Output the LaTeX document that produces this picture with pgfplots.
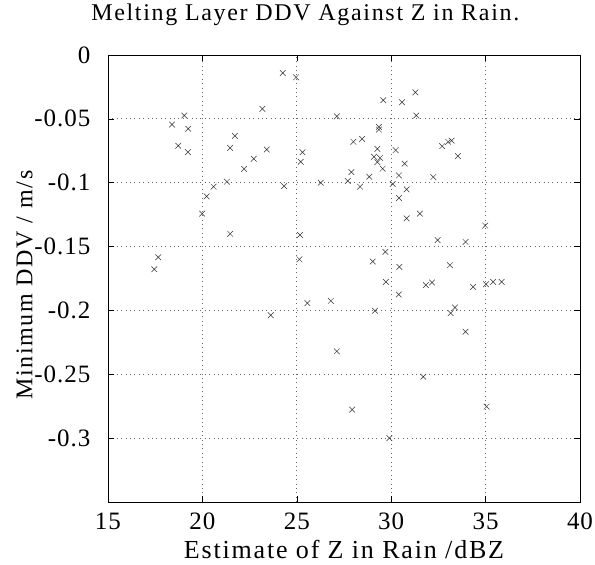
\documentclass[border=0pt]{standalone}
\usepackage{fontspec}
\setmainfont{Liberation Serif}[LetterSpace=7]
\newfontfamily\tickfont{Liberation Serif}[LetterSpace=4]
\usepackage{pgfplots}
\pgfplotsset{compat=1.18}
\usetikzlibrary{calc}

\pgfplotstableread{
x y
24.26 -0.0141
24.96 -0.0175
23.18 -0.0422
19.04 -0.0474
18.39 -0.0545
19.25 -0.0578
27.12 -0.0481
21.72 -0.0633
21.47 -0.0727
18.72 -0.0711
19.23 -0.0761
23.41 -0.0740
22.72 -0.0813
22.21 -0.0891
25.30 -0.0761
25.21 -0.0836
21.30 -0.0992
20.59 -0.1031
20.22 -0.1107
19.99 -0.1242
24.33 -0.1027
26.27 -0.1000
27.70 -0.0987
21.47 -0.1400
25.17 -0.1410
17.66 -0.1584
17.45 -0.1677
25.14 -0.1600
31.28 -0.0292
29.58 -0.0354
30.57 -0.0370
31.33 -0.0474
29.35 -0.0563
29.35 -0.0584
28.00 -0.0680
28.46 -0.0657
29.27 -0.0735
30.24 -0.0745
32.70 -0.0714
33.02 -0.0680
33.20 -0.0670
33.53 -0.0792
29.09 -0.0797
29.41 -0.0805
29.27 -0.0839
29.55 -0.0890
30.71 -0.0850
27.89 -0.0917
28.84 -0.0953
28.35 -0.1031
30.41 -0.0943
32.23 -0.0956
30.08 -0.1010
30.82 -0.1052
30.41 -0.1120
30.82 -0.1279
31.52 -0.1242
34.98 -0.1336
32.46 -0.1450
33.94 -0.1464
29.69 -0.1542
29.02 -0.1617
30.43 -0.1659
33.11 -0.1646
29.72 -0.1776
31.84 -0.1802
32.16 -0.1781
34.34 -0.1815
35.02 -0.1795
35.40 -0.1777
35.85 -0.1777
25.56 -0.1943
26.80 -0.1925
29.14 -0.2003
30.40 -0.1875
33.15 -0.2021
33.38 -0.1977
33.94 -0.2167
27.12 -0.2320
31.70 -0.2519
27.93 -0.2777
35.05 -0.2753
29.90 -0.3000
23.62 -0.2037
}\ddvdata

\begin{document}
\begin{tikzpicture}
\begin{axis}[
  scale only axis,
  width=472pt, height=447pt,
  xmin=15, xmax=40, ymin=-0.35, ymax=0,
  xtick={15,20,...,40},
  ytick={-0.3,-0.25,-0.2,-0.15,-0.1,-0.05,0},
  yticklabels={-0.3,-0.25,-0.2,-0.15,-0.1,-0.05,0},
  xticklabels={15,20,25,30,35,40},
  /pgf/number format/assume math mode=true,
  tick align=inside,
  major tick length=6pt,
  tick style={black, line width=0.6pt},
  axis line style={black, line width=0.8pt},
  grid=major,
  grid style={black!60, line width=0.7pt, dash pattern=on 0.8pt off 3.6pt},
  ticklabel style={font=\tickfont\fontsize{25}{28}\selectfont},
  xticklabel style={yshift=-7pt},
  yticklabel style={xshift=-14pt},
  every axis title shift=0pt,
  title={Melting Layer DDV Against Z in Rain.},
  title style={font=\fontsize{24}{26}\selectfont,
    at={(axis description cs:0.418,1.078)}, anchor=base},
  xlabel={Estimate of Z in Rain /dBZ},
  ylabel={Minimum DDV / m/s},
  xlabel style={font=\fontsize{26}{28}\selectfont,
    at={(axis description cs:0.5,-0.127)}, anchor=base},
  ylabel style={font=\fontsize{24}{26}\selectfont,
    at={(axis description cs:-0.152,0.485)}, anchor=south},
]
\addplot[only marks, mark=x, mark size=4pt, black!80, line width=0.5pt] table[x=x, y=y] {\ddvdata};
\coordinate (bl) at (rel axis cs:0,0);
\coordinate (tr) at (rel axis cs:1,1);
\end{axis}
\pgfresetboundingbox
\path ($(bl)+(-108pt,-63pt)$) rectangle ($(tr)+(15pt,55pt)$);
\end{tikzpicture}
\end{document}
